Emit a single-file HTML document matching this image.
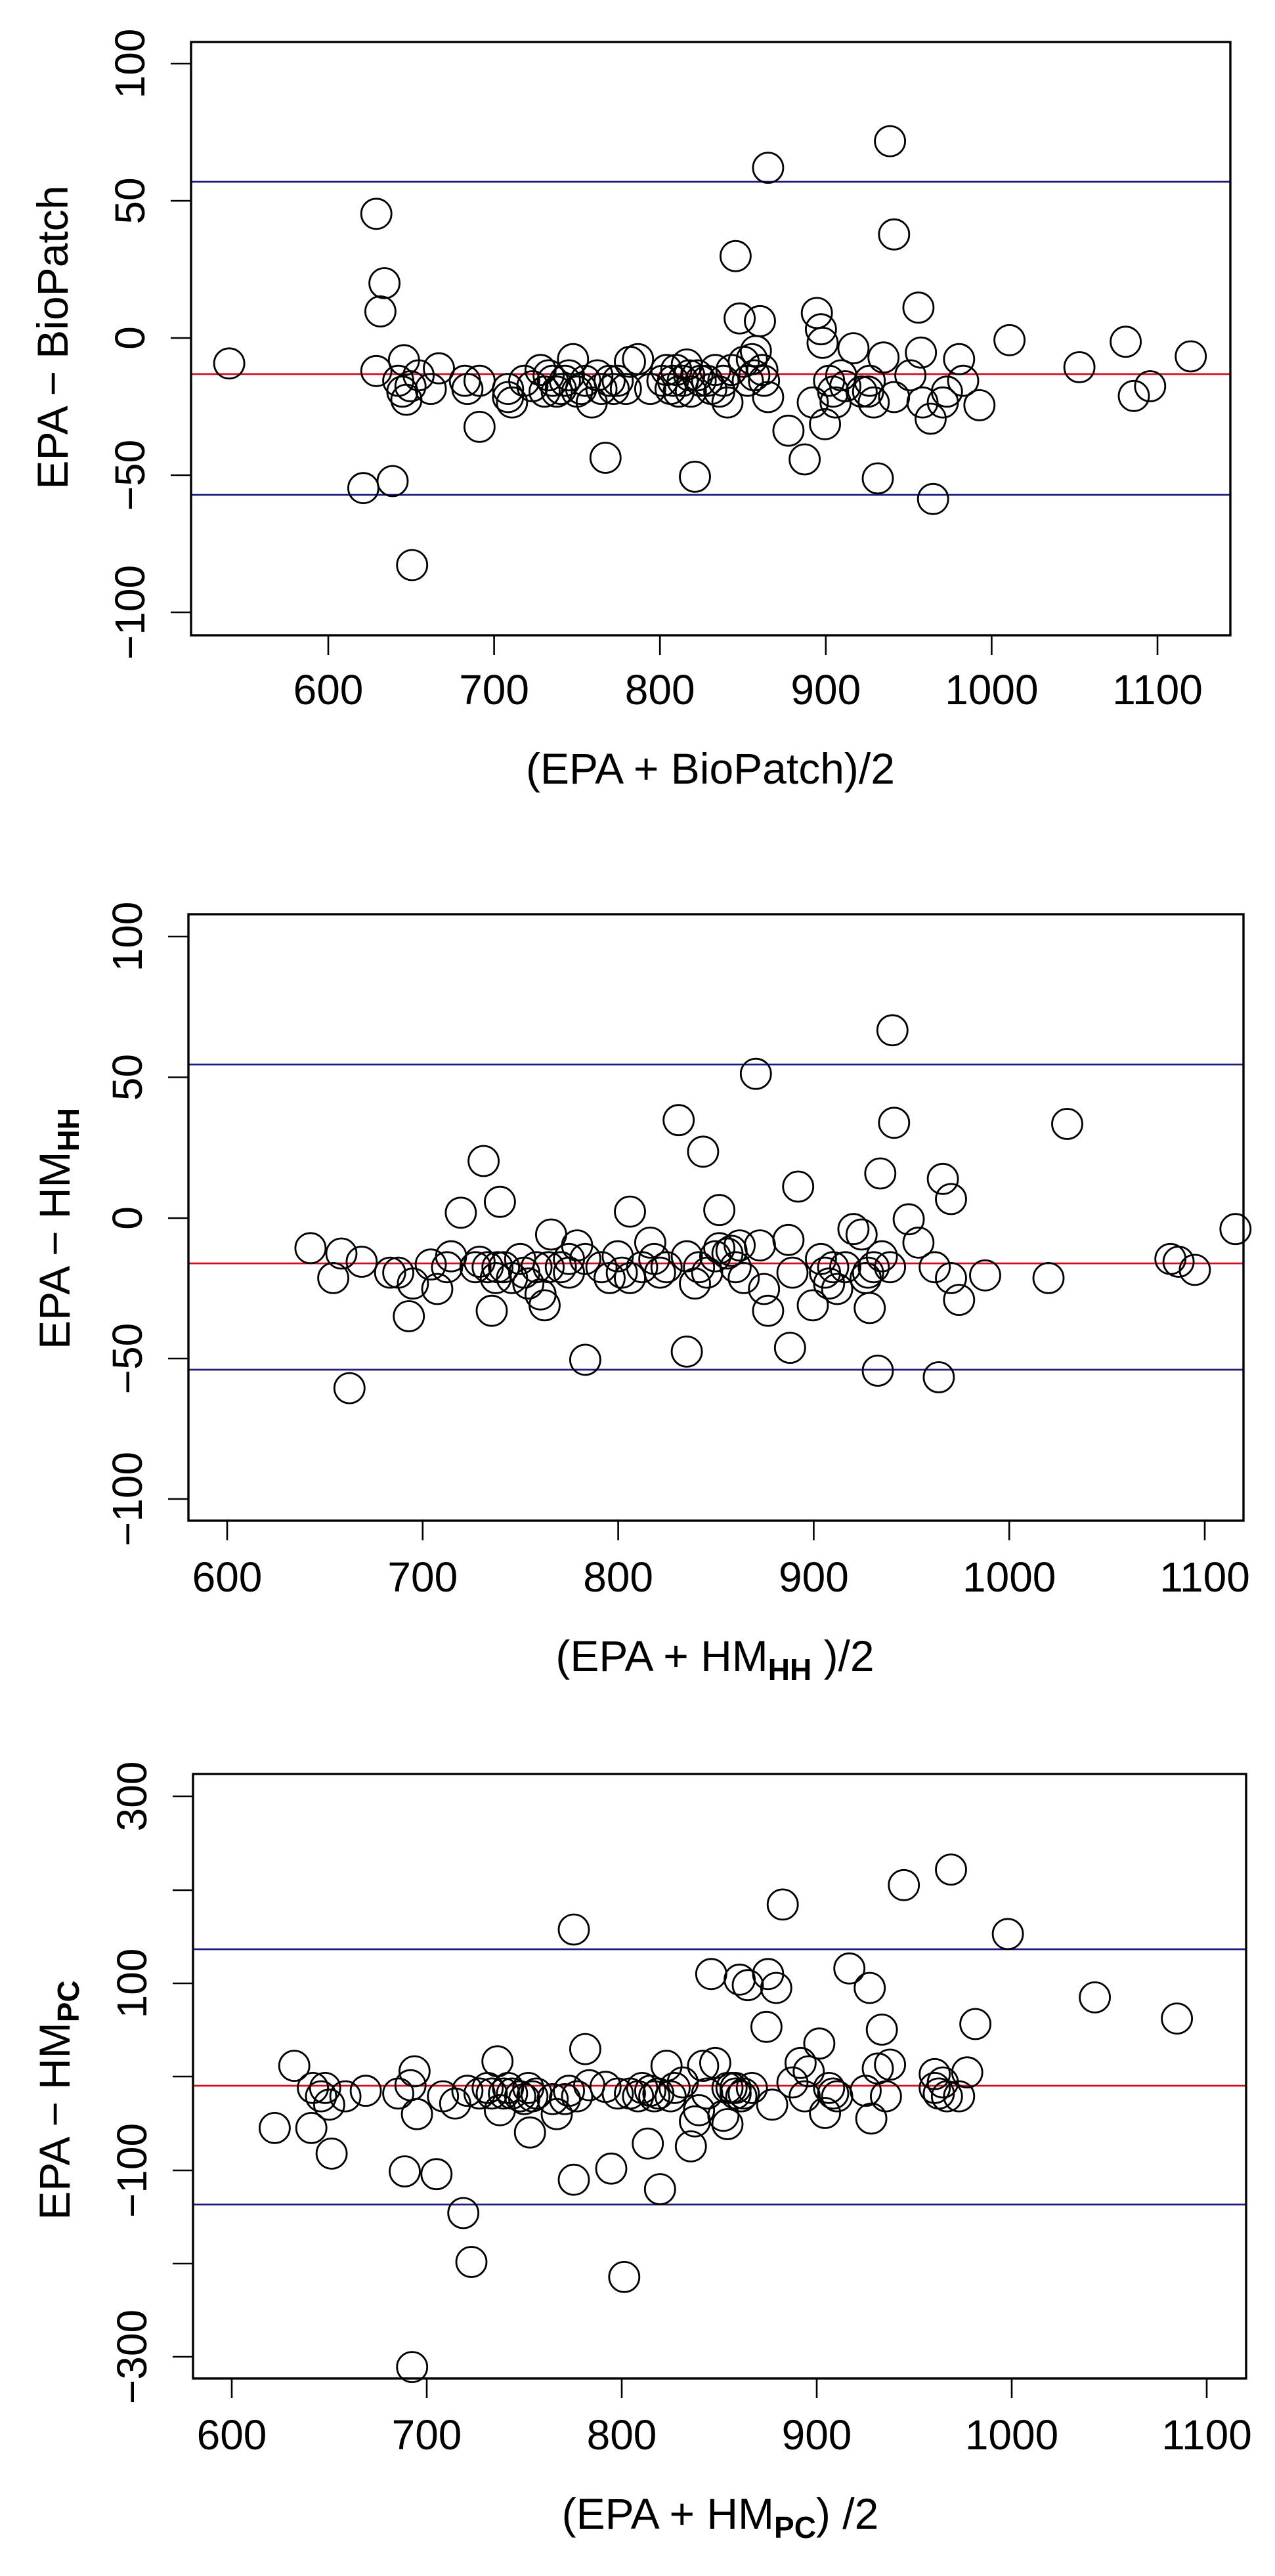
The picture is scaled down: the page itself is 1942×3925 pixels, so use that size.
<!DOCTYPE html>
<html><head><meta charset="utf-8"><style>
html,body{margin:0;padding:0;background:#fff;}
svg{display:block;}
text{font-family:"Liberation Sans",Arial,sans-serif;fill:#000;}
</style></head><body>
<svg id="s" width="1942" height="3925" viewBox="0 0 1942 3925" xmlns="http://www.w3.org/2000/svg">
<rect width="1942" height="3925" fill="#fff"/>
<g id="g1"></g><g id="g2"></g><g id="g3"></g>
<text x="1082" y="1194" font-size="66" text-anchor="middle">(EPA + BioPatch)/2</text>
<text transform="translate(103,514) rotate(-90)" font-size="66" text-anchor="middle">EPA − BioPatch</text>
<text x="1089" y="2546" font-size="66" text-anchor="middle">(EPA +  HM<tspan font-size="46" dy="14" font-weight="bold">HH</tspan><tspan dy="-14"> )/2</tspan></text>
<text transform="translate(106,1872) rotate(-90)" font-size="66" text-anchor="middle">EPA −  HM<tspan font-size="46" dy="14" font-weight="bold">HH</tspan></text>
<text x="1097" y="3853" font-size="66" text-anchor="middle">(EPA +  HM<tspan font-size="46" dy="14" font-weight="bold">PC</tspan><tspan dy="-14">)  /2</tspan></text>
<text transform="translate(106,3200) rotate(-90)" font-size="66" text-anchor="middle">EPA − HM<tspan font-size="46" dy="14" font-weight="bold">PC</tspan></text>
</svg>
<script>
var NS="http://www.w3.org/2000/svg";
function el(p,n,a,t){var e=document.createElementNS(NS,n);for(var k in a)e.setAttribute(k,a[k]);if(t!==undefined)e.textContent=t;p.appendChild(e);return e;}
var plots=[
 {g:"g1",box:[291,64,1874,968],xt:[500,2.526],xl:1073,
  yt:[[100,97],[50,306],[0,515],[-50,724],[-100,933]],lab:{"100":1,"50":1,"0":1,"-50":1,"-100":1},
  red:570,blue:[277,754],ky:0.826,oy:2,
  pts:[[282,668],[463,392],[473,520],[468,572],[463,682],[447,898],[483,885],[507,1040],[497,662],[490,700],[495,720],[500,735],[505,710],[515,690],[540,677],[530,715],[572,700],[575,715],[590,785],[590,700],[625,730],[625,715],[630,740],[645,700],[665,680],[670,720],[680,700],[690,715],[700,690],[705,660],[710,720],[720,700],[728,740],[740,715],[750,700],[745,842],[760,700],[770,715],[775,665],[785,660],[800,715],[815,700],[825,715],[832,680],[840,700],[845,670],[850,720],[855,877],[858,690],[870,700],[880,680],[885,720],[895,740],[900,680],[905,470],[910,585],[925,660],[930,645],[935,590],[940,700],[945,730],[945,307],[970,792],[990,845],[1000,740],[1005,575],[1010,605],[1012,630],[1015,780],[1020,700],[1025,720],[1035,690],[1050,640],[1060,720],[1070,700],[1075,740],[1080,880],[1087,657],[1095,258],[1100,430],[1100,730],[1120,690],[1130,565],[1133,648],[1135,740],[1145,770],[1148,918],[1160,740],[1165,720],[1180,660],[1185,700],[1205,745],[1242,625],[1328,675],[1385,628],[1395,728],[1415,710],[1465,655],
  [655,710],[675,690],[685,720],[695,700],[715,715],[735,690],[755,715],[820,680],[828,700],[835,720],[848,690],[862,700],[875,715],[890,700],[915,665],[920,700],[928,690],[938,680],[1028,740],[1040,710],[1068,720]]},
 {g:"g2",box:[287,1393,1894,2317],xt:[346,2.978],xl:2425,
  yt:[[100,1427],[50,1641.5],[0,1856],[-50,2070],[-100,2284]],lab:{"100":1,"50":1,"0":1,"-50":1,"-100":1},
  red:1925,blue:[1622,2087],ky:0.83,oy:1300,
  pts:[[382,725],[410,780],[420,735],[445,750],[430,982],[480,770],[490,770],[503,850],[508,790],[530,755],[538,800],[550,760],[555,740],[567,660],[585,760],[595,565],[600,760],[605,840],[610,780],[615,640],[620,760],[630,780],[640,745],[650,790],[660,760],[665,810],[670,830],[675,760],[678,700],[700,770],[710,720],[720,930],[720,745],[740,760],[750,780],[760,740],[775,658],[775,780],[790,760],[800,715],[805,745],[820,760],[835,490],[845,915],[845,740],[855,790],[865,548],[870,770],[885,655],[885,725],[895,735],[905,760],[910,720],[915,780],[930,405],[935,720],[940,800],[945,840],[970,710],[972,908],[975,770],[982,612],[1000,830],[1010,745],[1015,770],[1020,790],[1025,760],[1030,800],[1050,690],[1060,700],[1065,780],[1070,835],[1075,760],[1080,950],[1083,588],[1085,740],[1095,760],[1098,325],[1100,495],[1118,672],[1130,715],[1150,760],[1155,962],[1160,598],[1170,635],[1170,780],[1180,820],[1212,775],[1290,780],[1313,497],[1440,745],[1450,750],[1470,765],[1520,690],
  [590,750],[612,760],[645,770],[690,760],[700,745],[765,770],[812,770],[860,760],[880,740],[900,730],[1040,760],[1068,770]]},
 {g:"g3",box:[294,2703,1898,3624],xt:[353,2.97],xl:3732,
  yt:[[300,2737],[200,2880],[100,3022],[0,3164],[-100,3307],[-200,3449],[-300,3591]],lab:{"300":1,"100":1,"-100":1,"-300":1},
  red:3178,blue:[2970,3359],ky:0.847,oy:2597,
  pts:[[338,762],[362,650],[383,762],[385,690],[395,705],[400,690],[405,720],[408,808],[425,705],[450,695],[490,700],[498,840],[505,685],[510,660],[513,737],[537,845],[545,705],[560,718],[570,915],[580,1003],[590,700],[600,690],[612,642],[615,730],[620,700],[630,700],[640,705],[645,710],[650,690],[652,770],[660,700],[680,710],[685,737],[700,695],[706,405],[706,855],[710,705],[720,620],[725,685],[745,688],[752,835],[768,1030],[775,700],[785,705],[797,790],[800,695],[810,700],[812,872],[820,650],[825,705],[830,690],[840,680],[850,795],[855,750],[860,730],[865,650],[870,700],[875,485],[880,645],[890,740],[895,755],[900,690],[905,700],[910,495],[915,700],[920,505],[925,690],[943,580],[945,485],[950,720],[955,510],[963,360],[975,680],[985,645],[990,705],[995,660],[1008,610],[1015,735],[1020,690],[1030,705],[1045,475],[1065,695],[1070,510],[1072,745],[1080,655],[1085,585],[1090,705],[1095,648],[1112,325],[1150,665],[1155,700],[1160,680],[1165,705],[1170,297],[1180,705],[1190,662],[1200,575],[1240,413],[1347,527],[1448,565],
  [575,695],[605,700],[625,690],[655,705],[695,710],[760,700],[790,690],[805,705],[895,690],[905,690],[912,705],[1025,700],[1150,690],[507,1192]]}
];
plots.forEach(function(p){
  var g=document.getElementById(p.g),b=p.box;
  el(g,"line",{x1:b[0],x2:b[2],y1:p.blue[0],y2:p.blue[0],stroke:"#1c1c80","stroke-width":2.8});
  el(g,"line",{x1:b[0],x2:b[2],y1:p.blue[1],y2:p.blue[1],stroke:"#1c1c80","stroke-width":2.8});
  el(g,"line",{x1:b[0],x2:b[2],y1:p.red,y2:p.red,stroke:"#d01020","stroke-width":2.8});
  p.pts.forEach(function(q){
    el(g,"circle",{cx:(q[0]*1.238).toFixed(1),cy:(q[1]*p.ky+p.oy).toFixed(1),r:23,fill:"none",stroke:"#000","stroke-width":2.8});
  });
  el(g,"rect",{x:b[0],y:b[1],width:b[2]-b[0],height:b[3]-b[1],fill:"none",stroke:"#000","stroke-width":3.4});
  for(var v=600;v<=1100;v+=100){
    var x=p.xt[0]+(v-600)*p.xt[1];
    el(g,"line",{x1:x,x2:x,y1:b[3],y2:b[3]+30,stroke:"#000","stroke-width":2.6});
    el(g,"text",{x:x,y:p.xl,"font-size":64,"text-anchor":"middle"},String(v));
  }
  p.yt.forEach(function(t){
    el(g,"line",{x1:b[0]-31,x2:b[0],y1:t[1],y2:t[1],stroke:"#000","stroke-width":2.6});
    if(p.lab[String(t[0])]){
      var s=t[0]<0?"\u2212"+(-t[0]):String(t[0]);
      el(g,"text",{transform:"translate("+(b[0]-71)+","+t[1]+") rotate(-90)","font-size":64,"text-anchor":"middle"},s);
    }
  });
});
</script>
</body></html>
